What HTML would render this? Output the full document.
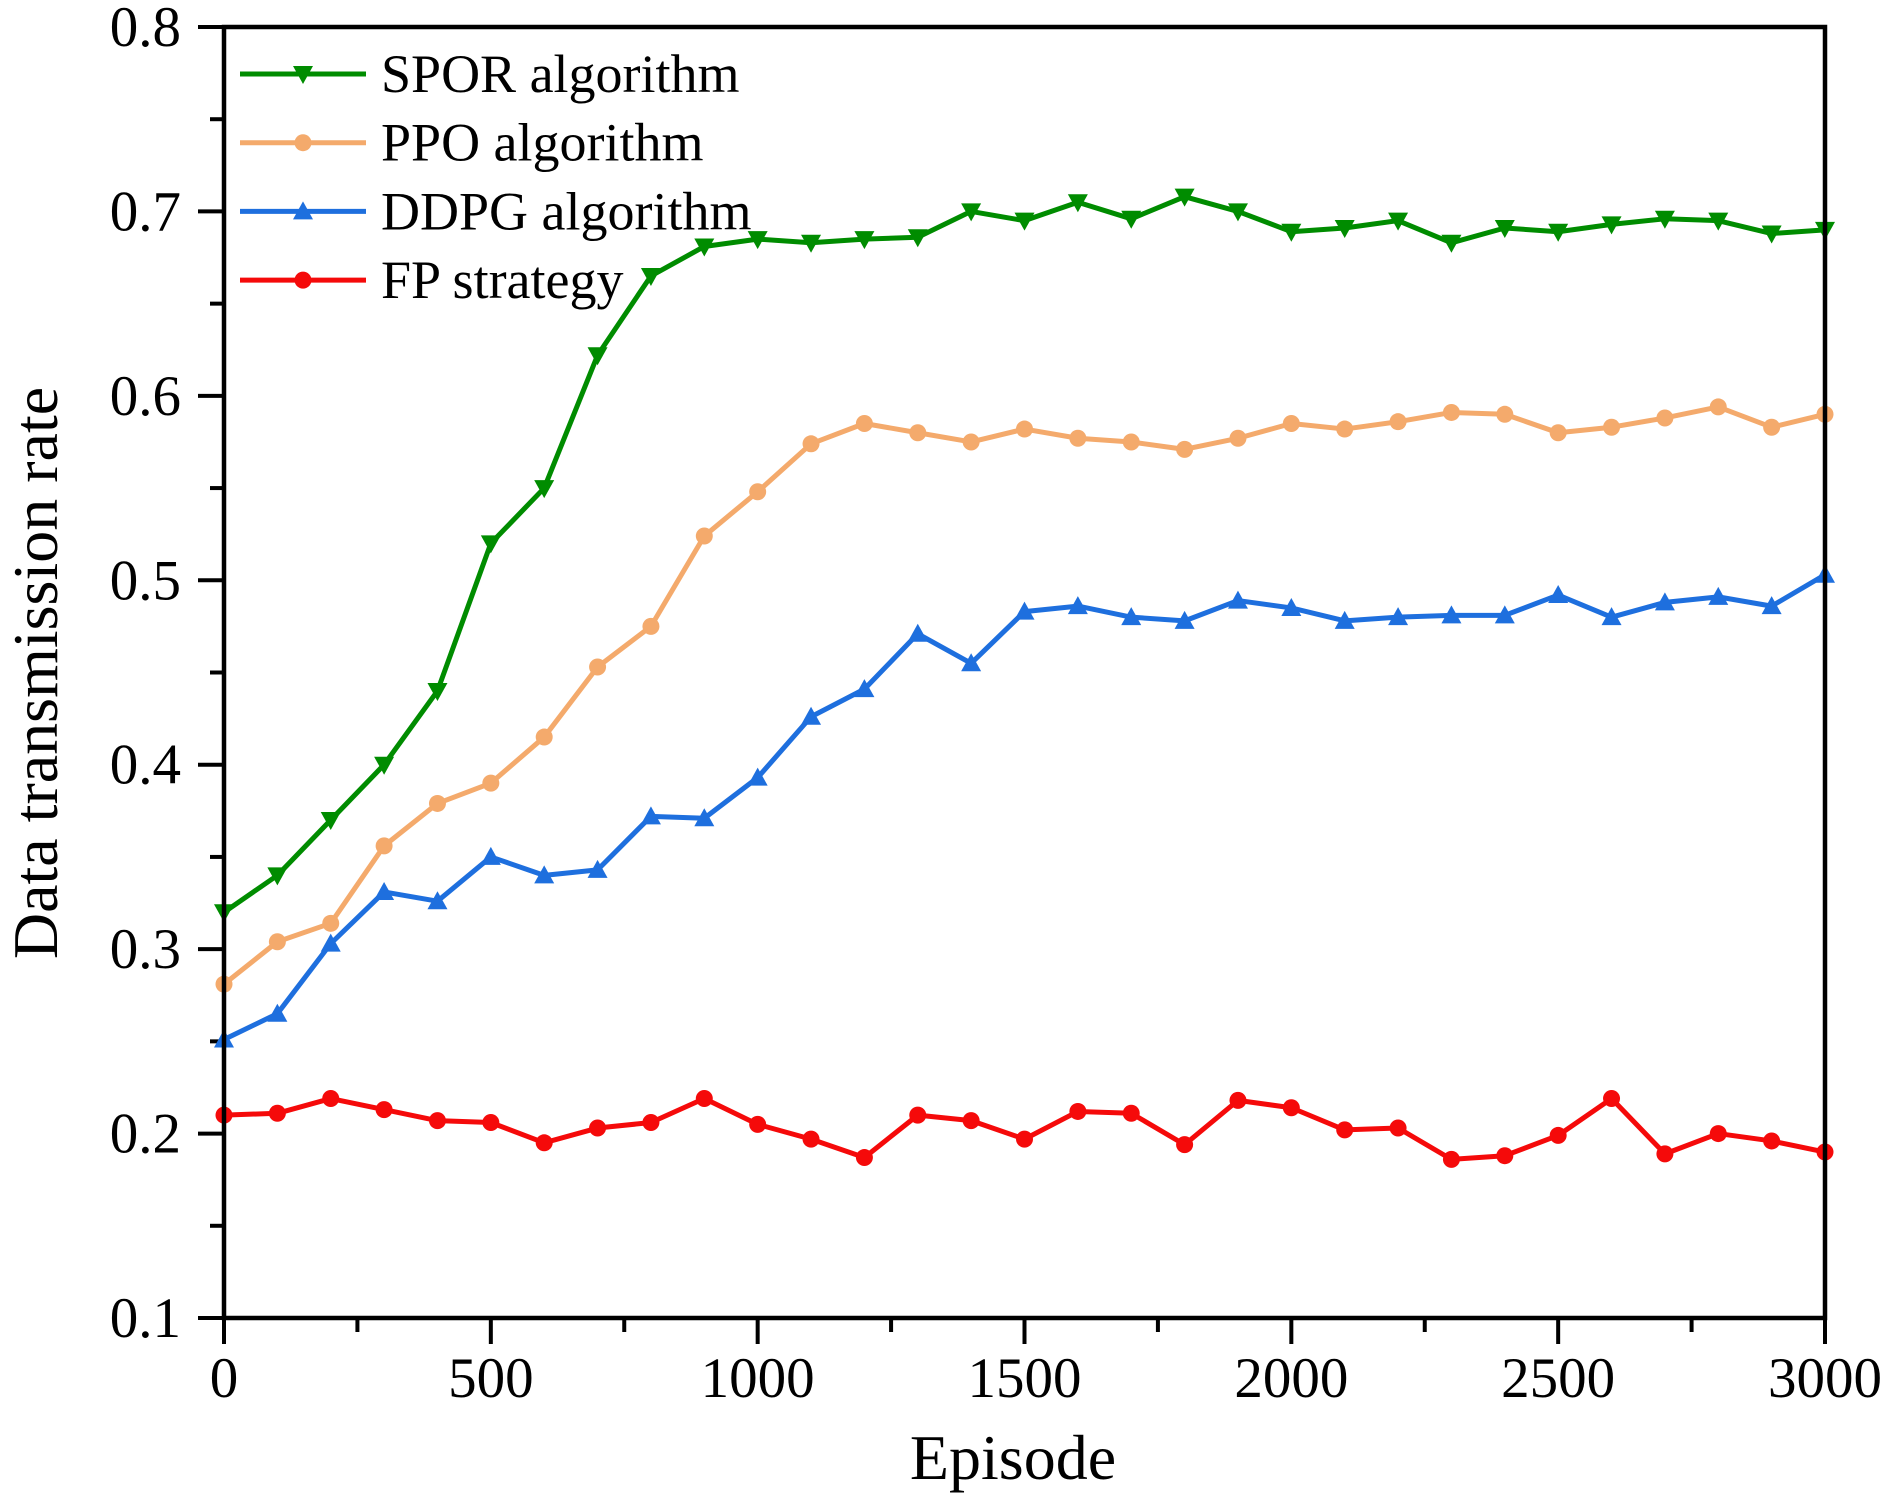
<!DOCTYPE html>
<html><head><meta charset="utf-8"><style>
html,body{margin:0;padding:0;background:#fff;}
svg{display:block;font-family:"Liberation Serif",serif;}
</style></head><body>
<svg id="chart" width="1884" height="1504" xmlns="http://www.w3.org/2000/svg"></svg>
<script>
const episodes = [0,100,200,300,400,500,600,700,800,900,1000,1100,1200,1300,1400,1500,1600,1700,1800,1900,2000,2100,2200,2300,2400,2500,2600,2700,2800,2900,3000];
const sporValues = [0.32,0.34,0.37,0.40,0.44,0.52,0.55,0.622,0.665,0.681,0.685,0.683,0.685,0.686,0.700,0.695,0.705,0.696,0.708,0.700,0.689,0.691,0.695,0.683,0.691,0.689,0.693,0.696,0.695,0.688,0.690];
const ppoValues = [0.281,0.304,0.314,0.356,0.379,0.390,0.415,0.453,0.475,0.524,0.548,0.574,0.585,0.580,0.575,0.582,0.577,0.575,0.571,0.577,0.585,0.582,0.586,0.591,0.590,0.580,0.583,0.588,0.594,0.583,0.590];
const ddpgValues = [0.251,0.265,0.303,0.331,0.326,0.350,0.340,0.343,0.372,0.371,0.393,0.426,0.441,0.471,0.455,0.483,0.486,0.480,0.478,0.489,0.485,0.478,0.480,0.481,0.481,0.492,0.480,0.488,0.491,0.486,0.503];
const fpValues = [0.210,0.211,0.219,0.213,0.207,0.206,0.195,0.203,0.206,0.219,0.205,0.197,0.187,0.210,0.207,0.197,0.212,0.211,0.194,0.218,0.214,0.202,0.203,0.186,0.188,0.199,0.219,0.189,0.200,0.196,0.190];
const xTicks = [0,500,1000,1500,2000,2500,3000];
const yTicks = [0.1,0.2,0.3,0.4,0.5,0.6,0.7,0.8];

const L=224,R=1825,T=27,B=1318;
const xS=v=>L+(v-0)/(3000)*(R-L);
const yS=v=>B-(v-0.1)/0.7*(B-T);
const svg=document.getElementById('chart');
const NS='http://www.w3.org/2000/svg';
function mk(tag,attrs,parent){const e=document.createElementNS(NS,tag);for(const k in attrs)e.setAttribute(k,attrs[k]);(parent||svg).appendChild(e);return e;}

const axG=mk('g',{});


for(let v=0;v<=3000;v+=250){const major=v%500===0;const t=mk('line',{x1:xS(v),x2:xS(v),y1:B,y2:B+(major?26:14),stroke:'#000','stroke-width':4},axG);

}
for(let i=0;i<=14;i++){const v=0.1+i*0.05;const major=i%2===0;const t=mk('line',{x1:L,x2:L-(major?26:14),y1:yS(v),y2:yS(v),stroke:'#000','stroke-width':4},axG);

}
xTicks.forEach(v=>{const t=mk('text',{x:xS(v),y:1397,'font-size':57,'text-anchor':'middle'},axG);t.textContent=v;

});
yTicks.forEach(v=>{const t=mk('text',{x:181,y:yS(v)+19,'font-size':57,'text-anchor':'end'},axG);t.textContent=v.toFixed(1);

});

const series=[
 {vals:sporValues,color:'#008c00',m:'down',name:'spor'},
 {vals:ppoValues,color:'#f4aa6c',m:'circle',name:'ppo'},
 {vals:ddpgValues,color:'#1e6fde',m:'up',name:'ddpg'},
 {vals:fpValues,color:'#f50a0a',m:'circle',name:'fp'}
];
function marker(g,x,y,type,color){
 let e;
 if(type==='circle') e=mk('circle',{cx:x,cy:y,r:8.5,fill:color},g);
 else if(type==='down') e=mk('polygon',{points:`${x-10},${y-8} ${x+10},${y-8} ${x},${y+10}`,fill:color},g);
 else e=mk('polygon',{points:`${x-10},${y+8} ${x+10},${y+8} ${x},${y-10}`,fill:color},g);
 
 
}
[...series].reverse().forEach(s=>{
 const g=mk('g',{});
 
 
 const p=mk('polyline',{points:s.vals.map((v,i)=>xS(episodes[i])+','+yS(v)).join(' '),fill:'none',stroke:s.color,'stroke-width':5,'stroke-linejoin':'round'},g);
 
 
 s.vals.forEach((v,i)=>marker(g,xS(episodes[i]),yS(v),s.m,s.color));
});

const fr=mk('rect',{x:L,y:T,width:R-L,height:B-T,fill:'none',stroke:'#000','stroke-width':4.5});



const labels=['SPOR algorithm','PPO algorithm','DDPG algorithm','FP strategy'];
const lg=mk('g',{});


series.forEach((s,i)=>{
 const y=74+i*68.7;
 const e=mk('g',{},lg);
 
 
 mk('line',{x1:240,x2:366,y1:y,y2:y,stroke:s.color,'stroke-width':5},e);
 marker(e,303,y,s.m,s.color);
 const t=mk('text',{x:381,y:y+18,'font-size':54},e);t.textContent=labels[i];
});

const xt=mk('text',{x:1013,y:1479,'font-size':64,'text-anchor':'middle'});xt.textContent='Episode';


const yt=mk('text',{x:0,y:0,'font-size':64,'text-anchor':'middle',transform:'translate(57,673) rotate(-90)'});yt.textContent='Data transmission rate';


</script>
</body></html>
